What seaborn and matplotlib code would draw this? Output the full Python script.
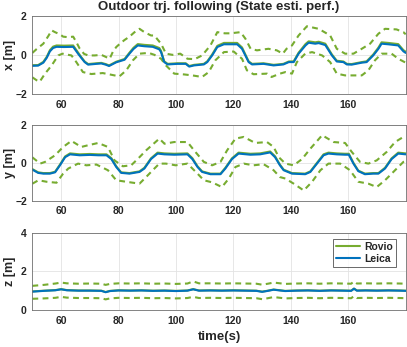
import numpy as np
import seaborn as sns
import matplotlib.pyplot as plt
from matplotlib.lines import Line2D

# ---- x [m] ----
x_t = [50, 52, 53.8, 55, 56.1, 57.2, 58.4, 61, 64.2, 65.9, 67, 68.2, 69.4, 72.3, 74, 75.5, 76.7,
       79.2, 82.1, 83.8, 85.2, 86.7, 89, 91.9, 94.2, 94.8, 95.9, 97.1, 100.5, 103.4, 104.6, 106.3,
       109.7, 110.9, 112.6, 114.4, 116.7, 121.3, 123, 125.3, 126.5, 130.5, 134, 137.4, 139.3, 141,
       142.7, 145.1, 146.2, 148.5, 149.7, 152, 154.3, 156, 158.3, 159.5, 161.2, 164.7, 166.4, 168.7,
       170.5, 171.6, 173.9, 177.4, 179.2, 180]
x_leica = [-0.56, -0.55, -0.40, -0.15, 0.18, 0.35, 0.41, 0.40, 0.41, 0.06, -0.15, -0.37, -0.50,
           -0.46, -0.44, -0.50, -0.57, -0.38, -0.25, 0.06, 0.30, 0.48, 0.44, 0.41, 0.28, 0.14, -0.37,
           -0.49, -0.46, -0.46, -0.60, -0.54, -0.49, -0.37, -0.03, 0.40, 0.54, 0.54, 0.31, -0.37,
           -0.49, -0.46, -0.54, -0.49, -0.37, -0.37, 0.06, 0.48, 0.62, 0.57, 0.60, 0.50, -0.03,
           -0.34, -0.37, -0.49, -0.50, -0.40, -0.37, -0.03, 0.31, 0.57, 0.54, 0.48, 0.18, 0.10]
x_rovio = [-0.53, -0.52, -0.36, -0.10, 0.24, 0.42, 0.48, 0.47, 0.48, 0.12, -0.11, -0.34, -0.47,
           -0.43, -0.41, -0.47, -0.54, -0.35, -0.21, 0.11, 0.36, 0.55, 0.51, 0.48, 0.35, 0.20, -0.33,
           -0.46, -0.43, -0.43, -0.57, -0.51, -0.46, -0.33, 0.02, 0.46, 0.61, 0.61, 0.38, -0.33,
           -0.46, -0.43, -0.51, -0.46, -0.34, -0.33, 0.11, 0.55, 0.69, 0.64, 0.67, 0.57, 0.02,
           -0.30, -0.34, -0.46, -0.47, -0.37, -0.33, 0.02, 0.37, 0.64, 0.61, 0.55, 0.24, 0.16]
x_up_t = [50, 51.5, 53.8, 55.5, 56.7, 58, 59.6, 60.7, 62.5, 64.2, 65.3, 66.5, 68, 69.4, 71.7, 74,
          75.5, 76.9, 78, 79.2, 80.5, 82, 83.8, 85.5, 87.3, 89, 91.3, 92.5, 93.5, 94.8, 96.5, 98.8,
          101.5, 104, 106.5, 109.1, 112, 114.4, 117, 119, 122.5, 124.2, 126, 128.2, 132.2, 135.1,
          137.2, 138.5, 140.4, 142.7, 145.6, 149.7, 153.7, 156, 158.9, 161.8, 164.7, 167.6, 170.5,
          172.8, 176.8, 179.2, 180]
x_up = [0.10, 0.30, 0.57, 0.95, 1.25, 1.15, 1.05, 0.93, 0.90, 0.93, 0.65, 0.31, 0.05, -0.03, -0.03,
        0.00, -0.10, -0.20, 0.15, 0.40, 0.57, 0.75, 0.93, 1.15, 1.33, 1.16, 0.99, 0.99, 0.80, 0.57,
        0.06, 0.00, 0.06, -0.20, -0.22, -0.03, 0.48, 1.16, 1.10, 1.10, 1.16, 0.82, 0.31, 0.23, 0.31,
        0.23, 0.06, 0.31, 0.48, 0.99, 1.46, 1.33, 0.99, 0.31, 0.06, 0.06, 0.31, 0.57, 1.08, 1.33,
        1.30, 1.16, 1.05]
x_lo_t = [50, 51.5, 52.5, 54.4, 56.7, 59, 60.5, 63.6, 65.3, 67.6, 70.5, 74.5, 78.6, 80.3, 82.7, 85,
          87.3, 90.5, 92.5, 94.8, 96.5, 99.4, 102.8, 105.7, 109.1, 111.4, 113.7, 116.7, 120.1, 123,
          124.7, 127, 131.7, 133.3, 136.2, 138.1, 140.4, 142.1, 145, 147.4, 150.9, 153.7, 156,
          158.9, 164.7, 167, 169.3, 171.6, 175.1, 177.4, 180]
x_lo = [-1.15, -1.30, -1.38, -0.96, -0.54, -0.03, 0.06, -0.03, -0.37, -0.88, -0.98, -0.93, -1.05,
        -1.10, -0.79, -0.28, 0.06, 0.10, 0.00, -0.20, -0.54, -0.96, -1.00, -1.05, -1.13, -0.88,
        -0.28, 0.14, 0.17, -0.20, -0.79, -0.99, -0.96, -1.13, -0.96, -0.88, -0.96, -0.37, 0.06,
        0.14, -0.03, -0.37, -0.96, -1.05, -1.05, -0.79, -0.28, 0.06, 0.06, -0.20, -0.40]

# ---- y [m] ----
y_t = [50, 52, 53.8, 56.1, 57.9, 59.6, 61.4, 63.1, 66.5, 70, 73, 75.8, 77.5, 79.2, 80.9, 83.8,
       87.3, 89, 91.3, 93.6, 96, 99.4, 104, 105.7, 107.5, 109.1, 112, 115.5, 117.2, 119.5, 121.8,
       125.9, 129.3, 132.8, 134.5, 136.2, 137.5, 140.4, 145, 146.8, 149.1, 151.4, 153.1, 156,
       158.9, 160.2, 161.8, 163.5, 165.8, 168.7, 170.5, 172.8, 175.1, 177.4, 180]
y_leica = [-0.36, -0.53, -0.57, -0.57, -0.50, -0.13, 0.30, 0.45, 0.40, 0.42, 0.40, 0.40, 0.20,
           -0.22, -0.53, -0.57, -0.48, -0.30, 0.20, 0.49, 0.45, 0.43, 0.45, 0.20, -0.22, -0.48,
           -0.60, -0.60, -0.30, 0.20, 0.49, 0.43, 0.45, 0.55, 0.30, -0.13, -0.39, -0.57, -0.60,
           -0.48, -0.04, 0.40, 0.49, 0.45, 0.43, 0.43, -0.04, -0.44, -0.60, -0.57, -0.57, -0.30,
           0.20, 0.49, 0.45]
y_rovio = [-0.33, -0.50, -0.54, -0.54, -0.47, -0.09, 0.34, 0.50, 0.45, 0.47, 0.45, 0.45, 0.25,
           -0.18, -0.50, -0.54, -0.45, -0.26, 0.24, 0.54, 0.50, 0.48, 0.50, 0.25, -0.18, -0.45,
           -0.57, -0.57, -0.26, 0.24, 0.54, 0.48, 0.50, 0.60, 0.35, -0.09, -0.36, -0.54, -0.57,
           -0.45, 0.00, 0.45, 0.54, 0.50, 0.48, 0.48, 0.00, -0.41, -0.57, -0.54, -0.54, -0.26,
           0.24, 0.54, 0.50]
y_up_t = [50, 52.7, 54.4, 57.9, 60.7, 63.6, 67, 69.4, 72.9, 76.3, 78.6, 81.5, 84.4, 87.3, 89.6,
          92.5, 94.2, 96, 99.4, 104, 106.3, 109.7, 112.6, 115.5, 117.8, 120.7, 123.6, 127.6,
          131.7, 134, 135.8, 138.1, 141, 143.9, 146.8, 150.9, 154.9, 158.9, 161.2, 164.1, 167,
          169.9, 173.4, 176.3, 179.2, 180]
y_up = [0.29, -0.04, 0.05, 0.40, 0.84, 1.16, 0.84, 0.93, 1.05, 0.84, 0.13, -0.18, -0.13, 0.30,
        0.66, 1.05, 1.28, 1.01, 1.10, 1.10, 0.66, 0.05, -0.13, 0.05, 0.66, 1.28, 1.37, 1.05, 1.10,
        0.84, 0.30, -0.04, -0.13, 0.20, 0.75, 1.46, 1.10, 1.05, 0.58, 0.05, -0.04, 0.13, 0.58,
        1.10, 1.37, 1.40]
y_lo_t = [50, 52.1, 55, 58.4, 60.7, 62.5, 65.9, 68.8, 72.3, 76.3, 79.2, 82.7, 87.3, 89.6, 91.9,
          94.2, 96.5, 99.9, 104, 107.5, 109.7, 112.6, 116, 118.4, 120.7, 123.6, 127, 130.5, 134,
          136.2, 138.1, 141, 144.5, 147.4, 150.3, 153.1, 157.2, 160.6, 163.5, 167, 169.9, 172.8,
          175.7, 179.2, 180]
y_lo = [-1.10, -0.92, -1.00, -1.05, -0.57, -0.30, -0.04, -0.13, -0.09, -0.39, -0.92, -1.00, -1.10,
        -0.75, -0.39, -0.04, -0.04, -0.13, -0.04, -0.57, -0.92, -1.03, -1.28, -0.83, -0.22, -0.04,
        -0.13, -0.07, -0.39, -0.75, -0.83, -1.10, -1.46, -1.00, -0.39, -0.04, -0.04, -0.39, -1.00,
        -1.10, -1.28, -0.92, -0.48, 0.05, 0.10]

# ---- z [m] ----
z_t = [50, 54, 58, 60, 62, 66, 70, 74, 75.5, 77, 80, 84, 88, 92, 96, 100, 104, 106, 108, 112, 116,
       120, 124, 128, 130, 132, 134, 138, 142, 146, 150, 154, 158, 161, 162, 163, 166, 170, 174,
       178, 180]
z_leica = [0.95, 0.99, 1.02, 1.07, 1.02, 1.00, 1.00, 0.99, 0.92, 0.98, 1.01, 1.00, 1.01, 0.99,
           1.00, 0.98, 1.00, 1.07, 1.00, 1.01, 1.00, 1.01, 1.00, 0.99, 0.94, 0.99, 1.05, 0.98,
           1.00, 1.01, 0.99, 1.01, 1.00, 0.99, 1.10, 1.00, 1.01, 1.00, 1.01, 1.00, 0.99]
z_rovio = [0.96, 1.00, 1.03, 1.08, 1.03, 1.01, 1.01, 1.00, 0.93, 0.99, 1.02, 1.01, 1.02, 1.00,
           1.01, 0.99, 1.01, 1.08, 1.01, 1.02, 1.01, 1.02, 1.01, 1.00, 0.95, 1.00, 1.06, 0.99,
           1.01, 1.02, 1.00, 1.02, 1.01, 1.00, 1.11, 1.01, 1.02, 1.01, 1.02, 1.01, 1.00]
z_up = [1.25, 1.30, 1.37, 1.42, 1.38, 1.36, 1.37, 1.36, 1.30, 1.35, 1.38, 1.37, 1.38, 1.36, 1.37,
        1.35, 1.37, 1.48, 1.38, 1.38, 1.37, 1.38, 1.37, 1.36, 1.31, 1.36, 1.42, 1.35, 1.37, 1.38,
        1.36, 1.38, 1.37, 1.36, 1.48, 1.37, 1.38, 1.37, 1.38, 1.37, 1.36]
z_lo = [0.58, 0.60, 0.63, 0.68, 0.64, 0.62, 0.62, 0.61, 0.55, 0.60, 0.63, 0.62, 0.63, 0.61, 0.62,
        0.60, 0.62, 0.68, 0.62, 0.63, 0.62, 0.63, 0.62, 0.61, 0.56, 0.61, 0.67, 0.60, 0.62, 0.63,
        0.61, 0.63, 0.62, 0.61, 0.72, 0.62, 0.63, 0.62, 0.63, 0.62, 0.61]

x_ticks = [60, 80, 100, 120, 140, 160]
c_rovio = '#77AC30'
c_leica = '#0072BD'

sns.set_style("whitegrid")
plt.rcParams['font.family'] = ['Liberation Sans', 'DejaVu Sans']
plt.rcParams['font.weight'] = 'bold'

fig = plt.figure(figsize=(4.07, 3.47), dpi=100)
left, width = 32.4 / 407, 373.3 / 407
boxes = [(1 - 94 / 347, 78.3 / 347), (1 - 200.7 / 347, 75.7 / 347), (1 - 310 / 347, 77.3 / 347)]
axes = [fig.add_axes([left, b, width, h]) for b, h in boxes]

panels = [
    (x_t, x_leica, x_rovio, x_up_t, x_up, x_lo_t, x_lo, 'x [m]', (-2, 2), [-2, 0, 2]),
    (y_t, y_leica, y_rovio, y_up_t, y_up, y_lo_t, y_lo, 'y [m]', (-2, 2), [-2, 0, 2]),
    (z_t, z_leica, z_rovio, z_t, z_up, z_t, z_lo, 'z [m]', (0, 4), [0, 2, 4]),
]

for ax, (t, le, ro, ut, up, lt, lo, lab, ylim, yt) in zip(axes, panels):
    for tt, vv in [(ut, up), (lt, lo)]:
        sns.lineplot(x=tt, y=vv, ax=ax, color=c_rovio, lw=1.5, estimator=None)
        ax.lines[-1].set_dashes((2.8, 2.1))
    sns.lineplot(x=t, y=ro, ax=ax, color=c_rovio, lw=1.5, estimator=None)
    sns.lineplot(x=t, y=le, ax=ax, color=c_leica, lw=1.5, estimator=None)
    ax.set_xlim(50, 180)
    ax.set_ylim(*ylim)
    ax.set_xticks(x_ticks)
    ax.set_yticks(yt)
    ax.tick_params(direction='in', length=2.5, width=0.6, labelsize=7.5, pad=4, colors='#262626')
    for lbl in ax.get_xticklabels() + ax.get_yticklabels():
        lbl.set_fontweight('bold')
    ax.grid(True, color='#e3e3e3', lw=0.6)
    for s in ax.spines.values():
        s.set_color('#6f6f6f')
        s.set_linewidth(0.6)
    ax.set_ylabel(lab, fontsize=9, fontweight='bold')
    ax.yaxis.set_label_coords(-0.045, 0.5)
    ax.set_xlabel('')

axes[0].set_title('Outdoor trj. following (State esti. perf.)', fontsize=9.5,
                  fontweight='bold', pad=4)
axes[2].set_xlabel('time(s)', fontsize=9.5, fontweight='bold')
axes[2].xaxis.set_label_coords(0.5, -0.27)

handles = [Line2D([], [], color=c_rovio, lw=1.5), Line2D([], [], color=c_leica, lw=1.5)]
leg = axes[2].legend(handles, ['Rovio', 'Leica'], loc='upper right',
                     bbox_to_anchor=(0.975, 0.92), fontsize=7.5, frameon=True,
                     fancybox=False, handlelength=2.3, borderpad=0.3, labelspacing=0.2,
                     handletextpad=0.4, borderaxespad=0)
leg.get_frame().set_edgecolor('#262626')
leg.get_frame().set_linewidth(0.6)
for txt in leg.get_texts():
    txt.set_fontweight('bold')

fig.savefig('out.png', dpi=100)
